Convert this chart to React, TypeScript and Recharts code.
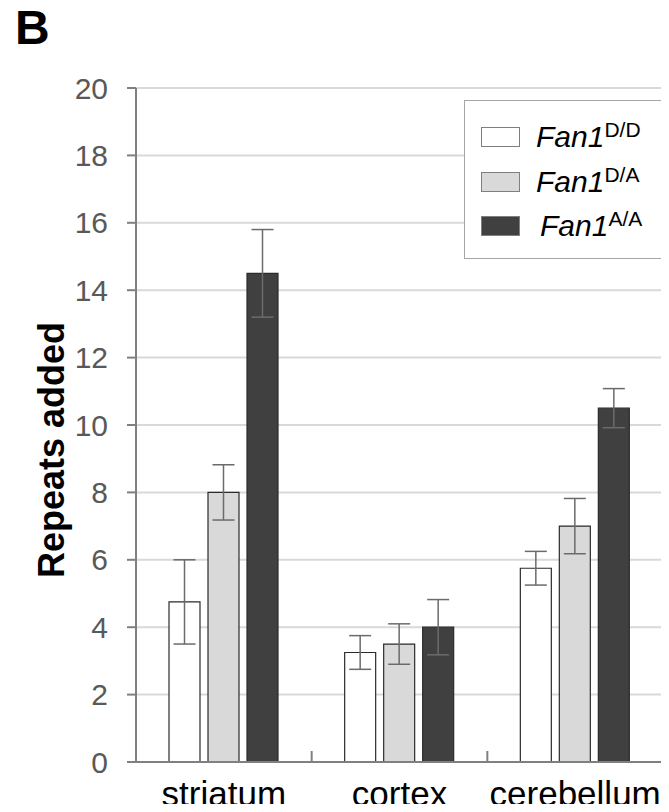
import React from 'react';
import { BarChart, Bar, XAxis, YAxis, CartesianGrid, ErrorBar } from 'recharts';

// tissues on the x axis
const categories = ['striatum', 'cortex', 'cerebellum'];

// mean repeats added per genotype, with error half-widths
const fanDD = [4.75, 3.25, 5.75];
const fanDDErr = [1.25, 0.5, 0.5];
const fanDA = [8.0, 3.5, 7.0];
const fanDAErr = [0.82, 0.6, 0.82];
const fanAA = [14.5, 4.0, 10.5];
const fanAAErr = [1.3, 0.82, 0.58];

const yTicks = [0, 2, 4, 6, 8, 10, 12, 14, 16, 18, 20];

const genotypes = [
  { key: 'dd', err: 'ddErr', sup: 'D/D', fill: '#ffffff' },
  { key: 'da', err: 'daErr', sup: 'D/A', fill: '#d9d9d9' },
  { key: 'aa', err: 'aaErr', sup: 'A/A', fill: '#404040' },
];

const chartData = categories.map((name, i) => ({
  name,
  dd: fanDD[i],
  ddErr: fanDDErr[i],
  da: fanDA[i],
  daErr: fanDAErr[i],
  aa: fanAA[i],
  aaErr: fanAAErr[i],
}));

const WIDTH = 669;
const HEIGHT = 812;
const AXIS_W = 136;
const MARGIN = { top: 88, right: 6, bottom: 0, left: 0 };
const BAND = (WIDTH - AXIS_W - MARGIN.right) / categories.length;
const FONT = '"Liberation Sans", Arial, Helvetica, sans-serif';

// category label plus the separator tick at the right edge of each band
const CategoryTick = ({ x, y, payload }: any) => (
  <g>
    <line x1={x + BAND / 2} x2={x + BAND / 2} y1={y - 11} y2={y} stroke="#808080" strokeWidth={2} />
    <text x={x} y={y + 44} textAnchor="middle" fontSize={35} fill="#000" fontFamily={FONT}>
      {payload.value}
    </text>
  </g>
);

const YLabel = () => (
  <text
    x={51}
    y={450}
    transform="rotate(-90, 51, 450)"
    textAnchor="middle"
    dominantBaseline="central"
    fontSize={36}
    fontWeight="bold"
    fill="#000"
    fontFamily={FONT}
  >
    Repeats added
  </text>
);

const LegendBox = () => (
  <div
    style={{
      position: 'absolute',
      left: 464,
      top: 100,
      width: 198,
      height: 157,
      border: '1px solid #a6a6a6',
      background: '#fff',
      fontFamily: FONT,
    }}
  >
    {genotypes.map((g, i) => (
      <div
        key={g.key}
        style={{
          position: 'absolute',
          left: 16,
          top: 26 + i * 44.5,
          height: 20,
          display: 'flex',
          alignItems: 'center',
        }}
      >
        <div
          style={{
            width: 37,
            height: 18,
            background: g.fill,
            border: '1px solid #7f7f7f',
          }}
        />
        <span style={{ marginLeft: i === 2 ? 20 : 16, fontSize: 30, lineHeight: '20px', color: '#000' }}>
          <i>Fan1</i>
          <sup style={{ fontSize: 21, verticalAlign: 'top', position: 'relative', top: -7 }}>{g.sup}</sup>
        </span>
      </div>
    ))}
  </div>
);

export default function App() {
  return (
    <div style={{ position: 'relative', width: WIDTH, height: HEIGHT, margin: -8, background: '#fff' }}>
      <div
        style={{
          position: 'absolute',
          left: 15,
          top: 4,
          fontSize: 48,
          fontWeight: 'bold',
          lineHeight: 1,
          fontFamily: FONT,
        }}
      >
        B
      </div>
      <BarChart
        width={WIDTH}
        height={HEIGHT}
        data={chartData}
        margin={MARGIN}
        barSize={31}
        barGap={8}
      >
        <CartesianGrid vertical={false} stroke="#d9d9d9" strokeWidth={2} />
        <XAxis
          dataKey="name"
          height={50}
          axisLine={{ stroke: '#808080', strokeWidth: 2 }}
          tickLine={false}
          tickSize={0}
          tickMargin={0}
          tick={<CategoryTick />}
          interval={0}
        />
        <YAxis
          width={AXIS_W}
          domain={[0, 20]}
          ticks={yTicks}
          interval={0}
          axisLine={{ stroke: '#808080', strokeWidth: 2 }}
          tickLine={{ stroke: '#808080', strokeWidth: 2 }}
          tickSize={9}
          tickMargin={19}
          tick={{ fill: '#595959', fontSize: 30, fontFamily: FONT }}
          label={<YLabel />}
        />
        {genotypes.map((g) => (
          <Bar
            key={g.key}
            dataKey={g.key}
            fill={g.fill}
            stroke="#2b2b2b"
            strokeWidth={1.2}
            isAnimationActive={false}
          >
            <ErrorBar dataKey={g.err} width={11} stroke="#6b6b6b" strokeWidth={1.5} />
          </Bar>
        ))}
      </BarChart>
      <LegendBox />
    </div>
  );
}
